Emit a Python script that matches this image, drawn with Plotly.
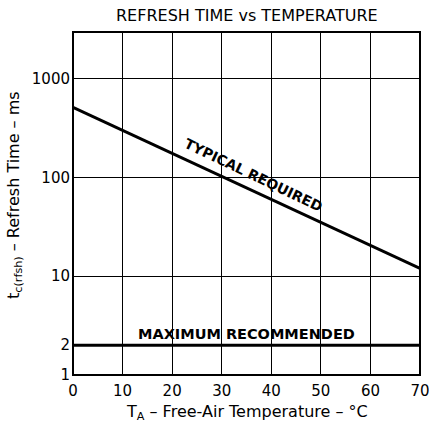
import numpy as np
import plotly.graph_objects as go

# Typical required refresh time vs free-air temperature
temp_c = [0, 70]
typical_ms = [510, 12]

# Maximum recommended refresh time (constant)
max_temp_c = [0, 70]
max_ms = [2, 2]

x_ticks = [0, 10, 20, 30, 40, 50, 60, 70]
y_ticks = [1, 2, 10, 100, 1000]
y_tick_text = ["1", "2", "10", "100", "1000"]

FONT = "DejaVu Sans, Verdana, sans-serif"

# position of the "TYPICAL REQUIRED" label, on the typical curve
label_t = 36.4
slope = (np.log10(typical_ms[1]) - np.log10(typical_ms[0])) / (temp_c[1] - temp_c[0])
label_logy = np.log10(typical_ms[0]) + slope * (label_t - temp_c[0])

fig = go.Figure()
fig.add_trace(go.Scatter(x=temp_c, y=typical_ms, mode="lines",
                         line=dict(color="black", width=3), hoverinfo="skip"))
fig.add_trace(go.Scatter(x=max_temp_c, y=max_ms, mode="lines",
                         line=dict(color="black", width=3), hoverinfo="skip"))

fig.update_layout(
    width=429, height=427,
    margin=dict(l=73, r=9, t=32, b=52),
    paper_bgcolor="white", plot_bgcolor="white",
    showlegend=False,
    font=dict(family=FONT, size=15, color="black"),
    xaxis=dict(range=[0, 70], tickvals=x_ticks, ticks="", showgrid=True,
               gridcolor="black", gridwidth=1, showline=False, zeroline=False,
               ticklabelstandoff=5, automargin=False, ticklabeloverflow="allow",
               tickfont=dict(size=15)),
    yaxis=dict(type="log", range=[0, 3.47], tickvals=y_ticks, ticktext=y_tick_text,
               ticks="", showgrid=True, gridcolor="black", gridwidth=1,
               showline=False, zeroline=False, ticklabelstandoff=2,
               automargin=False, ticklabeloverflow="allow",
               tickfont=dict(size=15)),
    shapes=[
        dict(type="rect", xref="paper", yref="paper", x0=0, x1=1, y0=0, y1=1,
             line=dict(color="black", width=2), fillcolor="rgba(0,0,0,0)"),
    ],
    annotations=[
        dict(text="REFRESH TIME vs TEMPERATURE", xref="paper", yref="paper",
             x=0.5, y=1, yshift=17, xanchor="center", yanchor="middle",
             showarrow=False, font=dict(size=16)),
        dict(text="T<sub>A</sub> – Free-Air Temperature – °C", xref="paper", yref="paper",
             x=0.5, y=0, yshift=-37, xanchor="center", yanchor="middle",
             showarrow=False, font=dict(size=16)),
        dict(text="t<sub>c(rfsh)</sub> – Refresh Time – ms", xref="paper", yref="paper",
             x=0, xshift=-58, y=0.525, xanchor="center", yanchor="middle",
             textangle=-90, showarrow=False, font=dict(size=16)),
        dict(text="<b>TYPICAL REQUIRED</b>", x=label_t, y=label_logy,
             xref="x", yref="y", yshift=16, textangle=25.5, showarrow=False,
             font=dict(size=14)),
        dict(text="<b>MAXIMUM RECOMMENDED</b>", x=35, y=np.log10(2),
             xref="x", yref="y", yshift=11, showarrow=False,
             font=dict(size=14.5)),
    ],
)

fig.write_html("out.html")
